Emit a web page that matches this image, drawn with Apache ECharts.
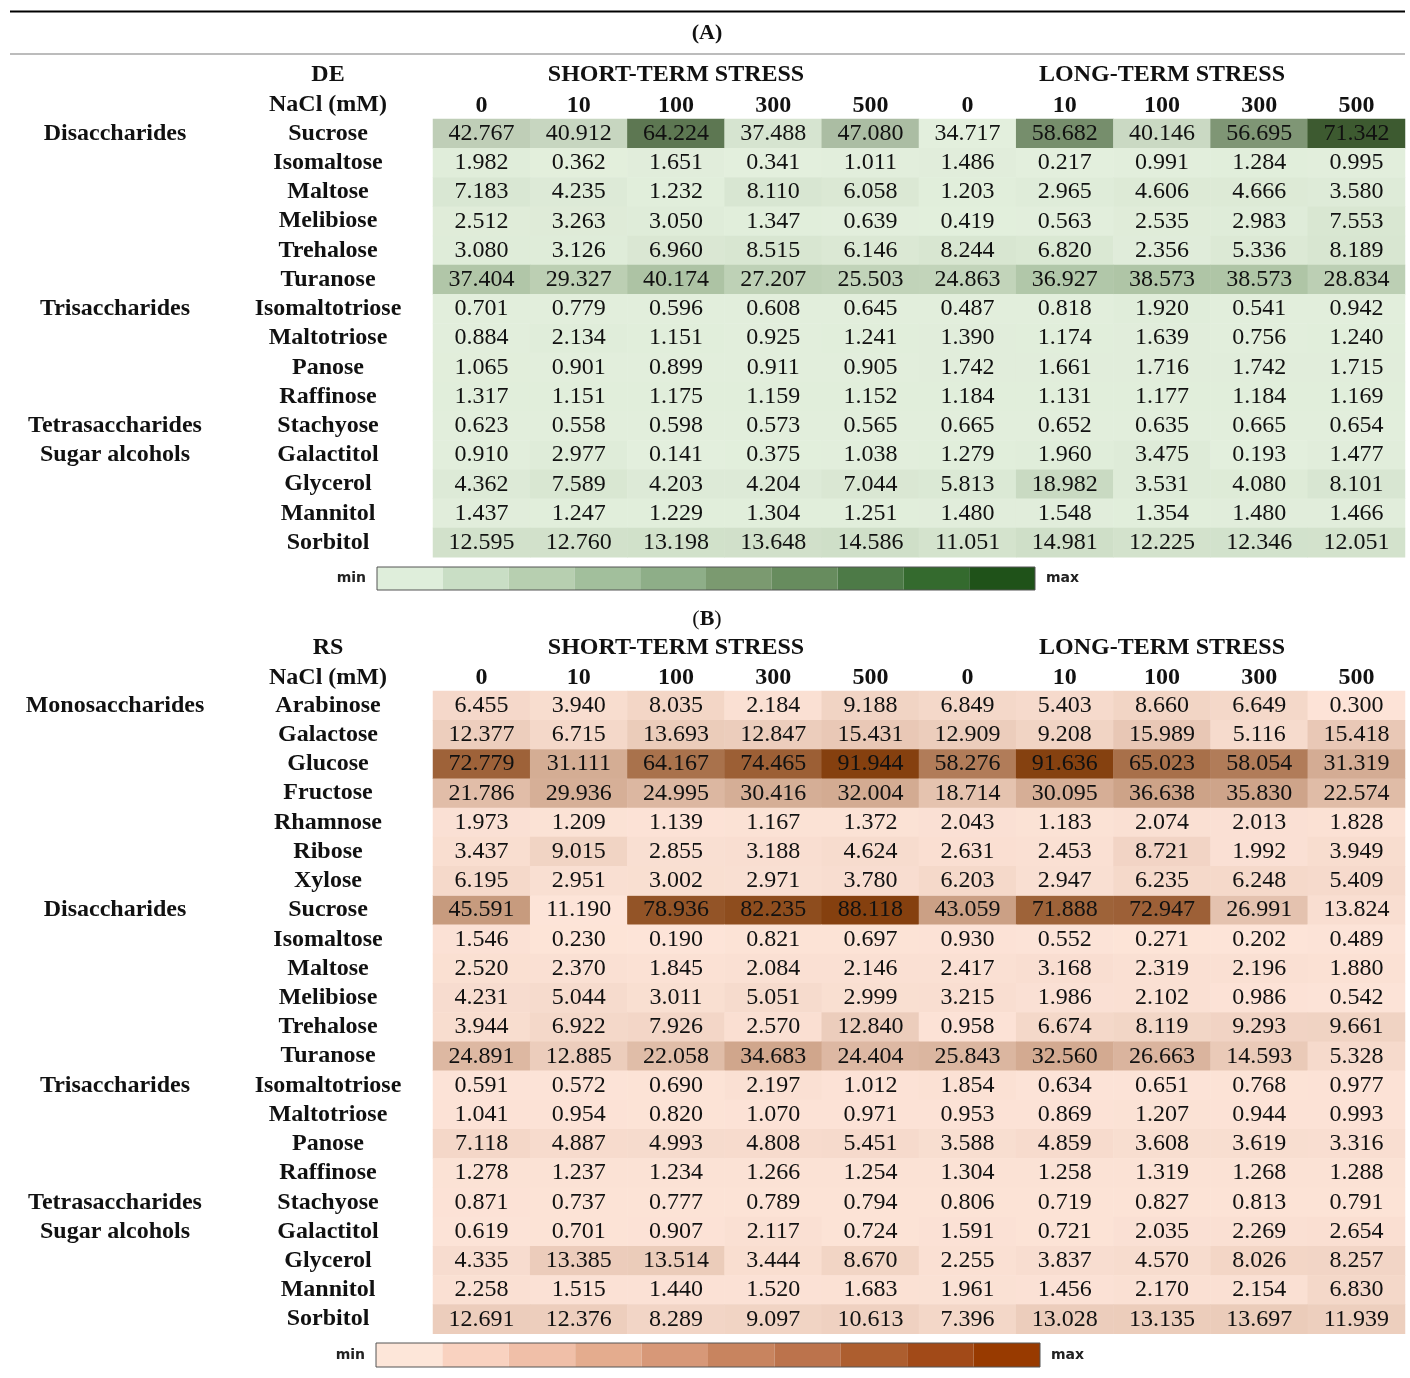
<!DOCTYPE html>
<html>
<head>
<meta charset="utf-8">
<title>Soluble carbohydrates under NaCl stress</title>
<script src="https://cdn.jsdelivr.net/npm/echarts@6/dist/echarts.min.js"></script>
<style>
  html, body { margin: 0; padding: 0; background: #ffffff; }
  #chart { width: 1410px; height: 1378px; }
</style>
</head>
<body>
<div id="chart"></div>
<script>
// ---- column headers -------------------------------------------------------
const treatments = ['ST-0', 'ST-10', 'ST-100', 'ST-300', 'ST-500', 'LT-0', 'LT-10', 'LT-100', 'LT-300', 'LT-500'];
const naclLabels = ['0', '10', '100', '300', '500', '0', '10', '100', '300', '500'];
const stressLabels = ['SHORT-TERM STRESS', 'LONG-TERM STRESS'];

// ---- (A) DE ---------------------------------------------------------------
const deCompounds = ['Sucrose', 'Isomaltose', 'Maltose', 'Melibiose', 'Trehalose', 'Turanose',
  'Isomaltotriose', 'Maltotriose', 'Panose', 'Raffinose', 'Stachyose', 'Galactitol',
  'Glycerol', 'Mannitol', 'Sorbitol'];
const deGroups = { Sucrose: 'Disaccharides', Isomaltotriose: 'Trisaccharides',
  Stachyose: 'Tetrasaccharides', Galactitol: 'Sugar alcohols' };
const deShortTerm = [
  [42.767, 40.912, 64.224, 37.488, 47.080],
  [1.982, 0.362, 1.651, 0.341, 1.011],
  [7.183, 4.235, 1.232, 8.110, 6.058],
  [2.512, 3.263, 3.050, 1.347, 0.639],
  [3.080, 3.126, 6.960, 8.515, 6.146],
  [37.404, 29.327, 40.174, 27.207, 25.503],
  [0.701, 0.779, 0.596, 0.608, 0.645],
  [0.884, 2.134, 1.151, 0.925, 1.241],
  [1.065, 0.901, 0.899, 0.911, 0.905],
  [1.317, 1.151, 1.175, 1.159, 1.152],
  [0.623, 0.558, 0.598, 0.573, 0.565],
  [0.910, 2.977, 0.141, 0.375, 1.038],
  [4.362, 7.589, 4.203, 4.204, 7.044],
  [1.437, 1.247, 1.229, 1.304, 1.251],
  [12.595, 12.760, 13.198, 13.648, 14.586]
];
const deLongTerm = [
  [34.717, 58.682, 40.146, 56.695, 71.342],
  [1.486, 0.217, 0.991, 1.284, 0.995],
  [1.203, 2.965, 4.606, 4.666, 3.580],
  [0.419, 0.563, 2.535, 2.983, 7.553],
  [8.244, 6.820, 2.356, 5.336, 8.189],
  [24.863, 36.927, 38.573, 38.573, 28.834],
  [0.487, 0.818, 1.920, 0.541, 0.942],
  [1.390, 1.174, 1.639, 0.756, 1.240],
  [1.742, 1.661, 1.716, 1.742, 1.715],
  [1.184, 1.131, 1.177, 1.184, 1.169],
  [0.665, 0.652, 0.635, 0.665, 0.654],
  [1.279, 1.960, 3.475, 0.193, 1.477],
  [5.813, 18.982, 3.531, 4.080, 8.101],
  [1.480, 1.548, 1.354, 1.480, 1.466],
  [11.051, 14.981, 12.225, 12.346, 12.051]
];

// ---- (B) RS ---------------------------------------------------------------
const rsCompounds = ['Arabinose', 'Galactose', 'Glucose', 'Fructose', 'Rhamnose', 'Ribose', 'Xylose',
  'Sucrose', 'Isomaltose', 'Maltose', 'Melibiose', 'Trehalose', 'Turanose',
  'Isomaltotriose', 'Maltotriose', 'Panose', 'Raffinose', 'Stachyose', 'Galactitol',
  'Glycerol', 'Mannitol', 'Sorbitol'];
const rsGroups = { Arabinose: 'Monosaccharides', Sucrose: 'Disaccharides', Isomaltotriose: 'Trisaccharides',
  Stachyose: 'Tetrasaccharides', Galactitol: 'Sugar alcohols' };
const rsShortTerm = [
  [6.455, 3.940, 8.035, 2.184, 9.188],
  [12.377, 6.715, 13.693, 12.847, 15.431],
  [72.779, 31.111, 64.167, 74.465, 91.944],
  [21.786, 29.936, 24.995, 30.416, 32.004],
  [1.973, 1.209, 1.139, 1.167, 1.372],
  [3.437, 9.015, 2.855, 3.188, 4.624],
  [6.195, 2.951, 3.002, 2.971, 3.780],
  [45.591, 11.190, 78.936, 82.235, 88.118],
  [1.546, 0.230, 0.190, 0.821, 0.697],
  [2.520, 2.370, 1.845, 2.084, 2.146],
  [4.231, 5.044, 3.011, 5.051, 2.999],
  [3.944, 6.922, 7.926, 2.570, 12.840],
  [24.891, 12.885, 22.058, 34.683, 24.404],
  [0.591, 0.572, 0.690, 2.197, 1.012],
  [1.041, 0.954, 0.820, 1.070, 0.971],
  [7.118, 4.887, 4.993, 4.808, 5.451],
  [1.278, 1.237, 1.234, 1.266, 1.254],
  [0.871, 0.737, 0.777, 0.789, 0.794],
  [0.619, 0.701, 0.907, 2.117, 0.724],
  [4.335, 13.385, 13.514, 3.444, 8.670],
  [2.258, 1.515, 1.440, 1.520, 1.683],
  [12.691, 12.376, 8.289, 9.097, 10.613]
];
const rsLongTerm = [
  [6.849, 5.403, 8.660, 6.649, 0.300],
  [12.909, 9.208, 15.989, 5.116, 15.418],
  [58.276, 91.636, 65.023, 58.054, 31.319],
  [18.714, 30.095, 36.638, 35.830, 22.574],
  [2.043, 1.183, 2.074, 2.013, 1.828],
  [2.631, 2.453, 8.721, 1.992, 3.949],
  [6.203, 2.947, 6.235, 6.248, 5.409],
  [43.059, 71.888, 72.947, 26.991, 13.824],
  [0.930, 0.552, 0.271, 0.202, 0.489],
  [2.417, 3.168, 2.319, 2.196, 1.880],
  [3.215, 1.986, 2.102, 0.986, 0.542],
  [0.958, 6.674, 8.119, 9.293, 9.661],
  [25.843, 32.560, 26.663, 14.593, 5.328],
  [1.854, 0.634, 0.651, 0.768, 0.977],
  [0.953, 0.869, 1.207, 0.944, 0.993],
  [3.588, 4.859, 3.608, 3.619, 3.316],
  [1.304, 1.258, 1.319, 1.268, 1.288],
  [0.806, 0.719, 0.827, 0.813, 0.791],
  [1.591, 0.721, 2.035, 2.269, 2.654],
  [2.255, 3.837, 4.570, 8.026, 8.257],
  [1.961, 1.456, 2.170, 2.154, 6.830],
  [7.396, 13.028, 13.135, 13.697, 11.939]
];

// ---- colour ramps (legend steps, light -> dark) ---------------------------
const greenSteps = ['#dfeedb', '#c9dec5', '#b7cfb0', '#a2bf9c', '#8eae88', '#7b9a70', '#678c5e', '#4d7a47', '#346a2e', '#1f5219'];
const brownSteps = ['#fde6d9', '#f9d2c0', '#f0bfa8', '#e4ac8e', '#d79878', '#c8845f', '#bc734c', '#ad5e2f', '#a24a18', '#983a00'];

// ---- layout -------------------------------------------------------------
const W = 1410;
const cellLeft = 433, cellRight = 1405;
const rowH = 29.22;
const labelX = 328, groupX = 115;
const panelA = { top: 119, rows: deCompounds.length };
const panelB = { top: 691, rows: rsCompounds.length };
const legendA = { x0: 377, x1: 1035, y0: 567, y1: 590 };
const legendB = { x0: 376, x1: 1040, y0: 1343, y1: 1367 };
const serif = 'Liberation Serif';
const colW = (cellRight - cellLeft) / treatments.length;

// build [col, row, value] triples, split into the sucrose row and the rest
function cells(compounds, shortTerm, longTerm, keepSucrose) {
  const out = [];
  compounds.forEach((name, r) => {
    if ((name === 'Sucrose') !== keepSucrose) return;
    shortTerm[r].concat(longTerm[r]).forEach((v, c) => out.push([c, r, v]));
  });
  return out;
}
const deSucrose = cells(deCompounds, deShortTerm, deLongTerm, true);
const deRest = cells(deCompounds, deShortTerm, deLongTerm, false);
const rsSucrose = cells(rsCompounds, rsShortTerm, rsLongTerm, true);
const rsRest = cells(rsCompounds, rsShortTerm, rsLongTerm, false);
const vals = d => d.map(p => p[2]);
const minOf = d => Math.min(...vals(d));
const maxOf = d => Math.max(...vals(d));

function xAxisFor(gi) {
  return {
    type: 'category', gridIndex: gi, data: treatments, position: 'top',
    axisLine: { show: false }, axisTick: { show: false }, splitLine: { show: false },
    axisLabel: {
      interval: 0, margin: 13, verticalAlign: 'middle', hideOverlap: false,
      formatter: (v, i) => naclLabels[i],
      fontFamily: serif, fontSize: 24, fontWeight: 'bold', color: '#111'
    }
  };
}
function yAxisFor(gi, compounds, margin, formatter) {
  return {
    type: 'category', gridIndex: gi, data: compounds, inverse: true, position: 'left', offset: 0,
    axisLine: { show: false }, axisTick: { show: false }, splitLine: { show: false },
    axisLabel: {
      interval: 0, margin: margin, align: 'center', verticalAlign: 'middle', hideOverlap: false,
      formatter: formatter,
      fontFamily: serif, fontSize: 24, fontWeight: 'bold', color: '#111'
    }
  };
}
function heat(xi, yi, data) {
  return {
    type: 'heatmap', xAxisIndex: xi, yAxisIndex: yi, data: data,
    itemStyle: { borderWidth: 0 },
    label: {
      show: true, formatter: p => p.value[2].toFixed(3),
      fontFamily: serif, fontSize: 24, color: '#111'
    },
    emphasis: { disabled: true }
  };
}
// stepped min..max key drawn as a piecewise visualMap that drives no series
function legendSteps(steps, box) {
  return {
    type: 'piecewise', seriesIndex: [], orient: 'horizontal',
    left: box.x0, top: box.y0, padding: 0,
    itemWidth: (box.x1 - box.x0) / steps.length, itemHeight: box.y1 - box.y0,
    itemGap: 0, itemSymbol: 'rect', showLabel: false, selectedMode: false,
    pieces: steps.map((c, i) => ({ min: i, max: i + 1, color: c }))
  };
}
function legendDecor(box) {
  const t = { fontFamily: 'DejaVu Sans', fontSize: 14, fontWeight: 'bold', fill: '#222', textVerticalAlign: 'middle' };
  const ym = (box.y0 + box.y1) / 2;
  return [
    { type: 'rect', z: 10, shape: { x: box.x0, y: box.y0, width: box.x1 - box.x0, height: box.y1 - box.y0 },
      style: { fill: 'none', stroke: '#555', lineWidth: 1 } },
    { type: 'text', style: Object.assign({ text: 'min', x: box.x0 - 11, y: ym, textAlign: 'right' }, t) },
    { type: 'text', style: Object.assign({ text: 'max', x: box.x1 + 11, y: ym, textAlign: 'left' }, t) }
  ];
}
function headerTexts(tag, y1) {
  const base = { textAlign: 'center', textVerticalAlign: 'middle',
    fontFamily: serif, fontSize: 24, fontWeight: 'bold', fill: '#111' };
  const gs = [
    { type: 'text', style: Object.assign({ text: tag, x: labelX, y: y1 }, base) },
    { type: 'text', style: Object.assign({ text: 'NaCl (mM)', x: labelX, y: y1 + 30 }, base) }
  ];
  stressLabels.forEach((s, k) => {
    gs.push({ type: 'text', style: Object.assign({ text: s, x: cellLeft + colW * (5 * k + 2.5), y: y1 }, base) });
  });
  return gs;
}

const gridBase = { left: cellLeft, right: W - cellRight, containLabel: false, outerBoundsMode: 'none' };

const chart = echarts.init(document.getElementById('chart'), null, { renderer: 'canvas' });
chart.setOption({
  backgroundColor: '#ffffff',
  animation: false,
  grid: [
    Object.assign({ top: panelA.top, height: rowH * panelA.rows }, gridBase),
    Object.assign({ top: panelB.top, height: rowH * panelB.rows }, gridBase)
  ],
  xAxis: [xAxisFor(0), xAxisFor(1)],
  yAxis: [
    yAxisFor(0, deCompounds, cellLeft - labelX),
    yAxisFor(0, deCompounds, cellLeft - groupX, v => deGroups[v] || ''),
    yAxisFor(1, rsCompounds, cellLeft - labelX),
    yAxisFor(1, rsCompounds, cellLeft - groupX, v => rsGroups[v] || '')
  ],
  visualMap: [
    { type: 'continuous', show: false, seriesIndex: 0, dimension: 2,
      min: minOf(deSucrose), max: maxOf(deSucrose), inRange: { color: ['#e3efdd', '#3d5a30'] } },
    { type: 'continuous', show: false, seriesIndex: 1, dimension: 2,
      min: 0, max: maxOf(deSucrose.concat(deRest)), inRange: { color: ['#e3efdd', '#83a178'] } },
    { type: 'continuous', show: false, seriesIndex: 2, dimension: 2,
      min: minOf(rsSucrose), max: maxOf(rsSucrose), inRange: { color: ['#fde4d8', '#85400f'] } },
    { type: 'continuous', show: false, seriesIndex: 3, dimension: 2,
      min: 0, max: maxOf(rsRest), inRange: { color: ['#fde4d8', '#85400f'] } },
    legendSteps(greenSteps, legendA),
    legendSteps(brownSteps, legendB)
  ],
  series: [
    heat(0, 0, deSucrose),
    heat(0, 0, deRest),
    heat(1, 2, rsSucrose),
    heat(1, 2, rsRest)
  ],
  graphic: [
    { type: 'line', shape: { x1: 10, y1: 11.5, x2: 1405, y2: 11.5 }, style: { stroke: '#000', lineWidth: 2 } },
    { type: 'line', shape: { x1: 10, y1: 54, x2: 1405, y2: 54 }, style: { stroke: '#7a7a7a', lineWidth: 1.2 } },
    { type: 'text', style: { text: '(A)', x: 707, y: 33, textAlign: 'center', textVerticalAlign: 'middle',
      fontFamily: serif, fontSize: 22, fontWeight: 'bold', fill: '#111' } },
    { type: 'text', style: { text: '{p|(}{b|B}{p|)}', x: 707, y: 619, textAlign: 'center', textVerticalAlign: 'middle',
      rich: { p: { fontFamily: serif, fontSize: 22, fill: '#111' },
              b: { fontFamily: serif, fontSize: 22, fontWeight: 'bold', fill: '#111' } } } },
    ...headerTexts('DE', 75),
    ...headerTexts('RS', 648),
    ...legendDecor(legendA),
    ...legendDecor(legendB)
  ]
});
</script>
</body>
</html>
